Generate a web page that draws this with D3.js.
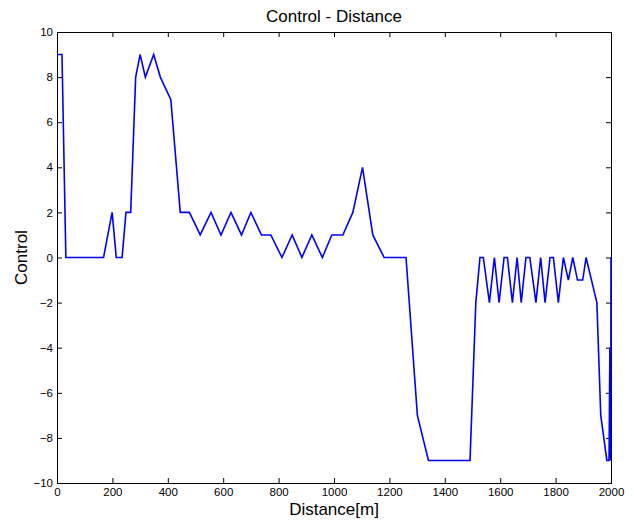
<!DOCTYPE html>
<html>
<head>
<meta charset="utf-8">
<script src="https://cdn.jsdelivr.net/npm/d3@7"></script>
<style>
  body { margin: 0; background: #fff; }
  svg { display: block; font-family: "Liberation Sans", Arial, sans-serif; }
  .axis text { font-size: 11.5px; fill: #000; }
  .axis line { stroke: #000; }
</style>
</head>
<body>
<script>
// distance [m] vs control
var distance = [0, 18, 32, 168, 199, 214, 235, 249, 266, 284, 300, 319, 349, 373, 411, 445, 478,
  517, 556, 592, 628, 666, 700, 738, 772, 812, 849, 884, 920, 958, 992, 1032, 1068, 1103, 1140,
  1181, 1260, 1301, 1341, 1491, 1512, 1527, 1539, 1561, 1579, 1596, 1614, 1626, 1644, 1661, 1676,
  1693, 1707, 1729, 1746, 1762, 1780, 1792, 1810, 1828, 1846, 1862, 1879, 1898, 1910, 1949, 1963,
  1985, 1993, 1996, 1999, 2000];
var control = [9, 9, 0, 0, 2, 0, 0, 2, 2, 8, 9, 8, 9, 8, 7, 2, 2,
  1, 2, 1, 2, 1, 2, 1, 1, 0, 1, 0, 1, 0, 1, 1, 2, 4, 1,
  0, 0, -7, -9, -9, -2, 0, 0, -2, 0, -2, 0, 0, -2, 0, -2,
  0, 0, -2, 0, -2, 0, 0, -2, 0, -1, 0, -1, -1, 0, -2, -7,
  -9, -9, -4, -9, 0];

var xTicks = [0, 200, 400, 600, 800, 1000, 1200, 1400, 1600, 1800, 2000];
var yTicks = [-10, -8, -6, -4, -2, 0, 2, 4, 6, 8, 10];

var width = 634, height = 521;
var margin = {top: 32, right: 23, bottom: 38, left: 57};

var svg = d3.select("body").append("svg")
  .attr("width", width)
  .attr("height", height);

var x = d3.scaleLinear().domain([0, 2000]).range([margin.left, width - margin.right]);
var y = d3.scaleLinear().domain([-10, 10]).range([height - margin.bottom, margin.top]);

var fmt = d3.format("d");

// ticks point inward on all four sides
svg.append("g")
  .attr("class", "axis")
  .attr("transform", "translate(0," + y(-10) + ")")
  .call(d3.axisBottom(x).tickValues(xTicks).tickFormat(fmt).tickSize(-5).tickSizeOuter(0).tickPadding(5))
  .call(g => g.select(".domain").remove());

svg.append("g")
  .attr("class", "axis")
  .attr("transform", "translate(" + x(0) + ",0)")
  .call(d3.axisLeft(y).tickValues(yTicks).tickFormat(fmt).tickSize(-5).tickSizeOuter(0).tickPadding(4))
  .call(g => g.select(".domain").remove());

svg.append("g")
  .attr("class", "axis")
  .attr("transform", "translate(0," + y(10) + ")")
  .call(d3.axisTop(x).tickValues(xTicks).tickSize(-5).tickFormat(""))
  .call(g => g.select(".domain").remove());

svg.append("g")
  .attr("class", "axis")
  .attr("transform", "translate(" + x(2000) + ",0)")
  .call(d3.axisRight(y).tickValues(yTicks).tickSize(-5).tickFormat(""))
  .call(g => g.select(".domain").remove());

svg.selectAll(".axis text").attr("font-family", null);

// box
svg.append("rect")
  .attr("x", x(0) + 0.5)
  .attr("y", y(10) + 0.5)
  .attr("width", x(2000) - x(0))
  .attr("height", y(-10) - y(10))
  .attr("fill", "none")
  .attr("stroke", "#000");

var pts = distance.map(function(d, i) { return [d, control[i]]; });

var line = d3.line()
  .x(function(d) { return x(d[0]); })
  .y(function(d) { return y(d[1]); });

svg.append("path")
  .datum(pts)
  .attr("d", line)
  .attr("fill", "none")
  .attr("stroke", "#0000ff")
  .attr("stroke-width", 1.6);

// labels
svg.append("text")
  .attr("x", (x(0) + x(2000)) / 2)
  .attr("y", 22)
  .attr("text-anchor", "middle")
  .style("font-size", "17px")
  .text("Control - Distance");

svg.append("text")
  .attr("x", (x(0) + x(2000)) / 2)
  .attr("y", 515)
  .attr("text-anchor", "middle")
  .style("font-size", "17px")
  .text("Distance[m]");

svg.append("text")
  .attr("transform", "translate(27," + (y(0)) + ") rotate(-90)")
  .attr("text-anchor", "middle")
  .style("font-size", "17px")
  .text("Control");
</script>
</body>
</html>
